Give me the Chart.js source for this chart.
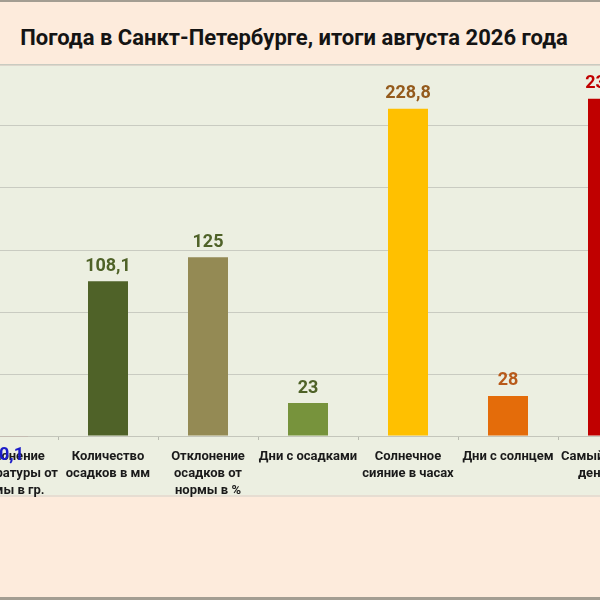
<!DOCTYPE html>
<html>
<head>
<meta charset="utf-8">
<script src="https://cdn.jsdelivr.net/npm/chart.js@4.4.1/dist/chart.umd.min.js"></script>
<style>
  html, body { margin: 0; padding: 0; }
  body { width: 600px; height: 600px; overflow: hidden; position: relative; background: #fdebdc; font-family: Roboto, sans-serif; }
  #topline { position: absolute; left: 0; top: 0; width: 600px; height: 2px; background: #a39d92; }
  #bottomline { position: absolute; left: 0; top: 597px; width: 600px; height: 3px; background: #a39d92; }
  #title { position: absolute; left: 0; width: 588px; top: 25px; text-align: center; font-weight: bold; font-size: 22px; color: #141414; }
  #panel { position: absolute; left: 0; top: 64px; width: 600px; height: 433px; background: #ecefe1;
           border-top: 2px solid #ddd6cb; border-bottom: 2px solid #e6ddd2; box-sizing: border-box; }
  #wrap { position: absolute; left: -42px; top: 60px; width: 700px; height: 440px; }
</style>
</head>
<body>
<div id="topline"></div>
<div id="panel"></div>
<div id="title">Погода в Санкт-Петербурге, итоги августа 2026 года</div>
<div id="wrap"><canvas id="chart" width="700" height="440"></canvas></div>
<div id="bottomline"></div>
<script>
// Data
const categories = [
    ['Отклонение', 'температуры от', 'нормы в гр.'],
    ['Количество', 'осадков в мм'],
    ['Отклонение', 'осадков от', 'нормы в %'],
    ['Дни с осадками'],
    ['Солнечное', 'сияние в часах'],
    ['Дни с солнцем'],
    ['Самый жаркий', 'день в гр.']
];
const values = [-0.1, 108.1, 125, 23, 228.8, 28, 235.7];
const valueLabels = ['-0,1', '108,1', '125', '23', '228,8', '28', '235,7'];
const barColors = ['#d03c3c', '#4f6228', '#948a54', '#77933c', '#ffc000', '#e46c0a', '#c00000'];
const labelColors = ['#1c1cc8', '#4f6228', '#4f6228', '#4f6228', '#945a1c', '#b85a1a', '#c00000'];

// Value labels above (or below) bars
const valueLabelPlugin = {
    id: 'valueLabels',
    afterDatasetsDraw(chart) {
        const ctx = chart.ctx;
        const meta = chart.getDatasetMeta(0);
        ctx.save();
        ctx.font = 'bold 18px Roboto';
        ctx.textAlign = 'center';
        ctx.textBaseline = 'middle';
        meta.data.forEach(function(bar, i) {
            const v = values[i];
            const y = v >= 0 ? bar.y - 15 : bar.base + 19;
            ctx.fillStyle = labelColors[i];
            ctx.fillText(valueLabels[i], bar.x, y);
        });
        ctx.restore();
    }
};

new Chart(document.getElementById('chart'), {
    type: 'bar',
    data: {
        labels: categories,
        datasets: [{
            data: values,
            backgroundColor: barColors,
            borderColor: barColors,
            borderWidth: function(c) { return values[c.dataIndex] < 0 ? 2 : 0; },
            borderSkipped: false,
            barPercentage: 0.4,
            categoryPercentage: 1,
            clip: false
        }]
    },
    options: {
        responsive: false,
        animation: false,
        layout: { padding: { top: 4, left: 0, right: 0, bottom: 0 } },
        plugins: {
            legend: { display: false },
            tooltip: { enabled: false }
        },
        scales: {
            x: {
                grid: {
                    offset: true,
                    drawOnChartArea: false,
                    drawTicks: true,
                    tickLength: 4,
                    color: '#b8bab0'
                },
                border: { color: '#c4c6bb', width: 1 },
                ticks: {
                    color: '#1a1a1a',
                    font: { family: 'Roboto', size: 13, weight: 'bold', lineHeight: 1.3 },
                    padding: 8,
                    maxRotation: 0,
                    autoSkip: false
                },
                afterFit: function(scale) {
                    scale.height = 64;
                    scale.paddingLeft = 0;
                    scale.paddingRight = 0;
                }
            },
            y: {
                min: 0,
                max: 260,
                ticks: { display: false, stepSize: 260 / 6 },
                grid: { color: '#c9cbc1', drawTicks: false },
                border: { display: false },
                afterFit: function(scale) {
                    scale.width = 0;
                    scale.paddingTop = 0;
                    scale.paddingBottom = 0;
                }
            }
        }
    },
    plugins: [valueLabelPlugin]
});
</script>
</body>
</html>
